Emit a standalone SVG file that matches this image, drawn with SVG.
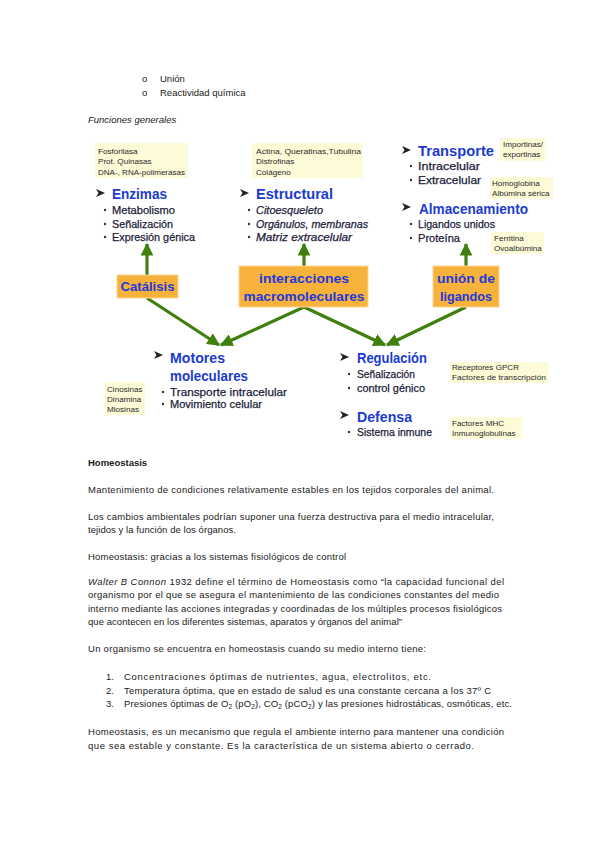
<svg xmlns="http://www.w3.org/2000/svg" width="599" height="848" viewBox="0 0 599 848">
<style>
.doc{font-family:"Liberation Sans",Arial,sans-serif;font-size:9.5px;fill:#1a1a1a}
.b{font-weight:bold}
.it{font-style:italic}
.hd{font-family:"Liberation Sans",Arial,sans-serif;font-size:15px;font-weight:bold;fill:#1b3bd0}
.bl{font-family:"Liberation Sans",Arial,sans-serif;font-size:11px;fill:#1c1c3a;stroke:#1c1c3a;stroke-width:0.25}
.sm{font-family:"Liberation Sans",Arial,sans-serif;font-size:8.1px;fill:#2a2a2a}
.note{fill:#fdfad8}
.ob{fill:#f6b23b;stroke:#fcd595;stroke-width:1}
.ot{font-family:"Liberation Sans",Arial,sans-serif;font-size:13px;font-weight:bold;fill:#2438dc;text-anchor:middle}
.ar{stroke:#3f7f0e;stroke-width:3.2;fill:none}
.pt{fill:#222}
.dot{fill:#333}
</style>
<defs>
<marker id="ah" viewBox="0 0 10 10" refX="9" refY="5" markerWidth="4" markerHeight="4" orient="auto" markerUnits="strokeWidth">
<path d="M0,0 L10,5 L0,10 z" fill="#3f7f0e"/>
</marker>
<path id="dart" d="M0,-4 L9,0 L0,4 L2.5,0 z"/>
</defs>
<rect width="599" height="848" fill="#ffffff"/>

<g id="top-text" class="doc">
<text x="142" y="82">o</text><text x="160" y="82">Unión</text>
<text x="142" y="96">o</text><text x="160" y="96">Reactividad química</text>
<text x="88" y="123" class="it">Funciones generales</text>
</g>

<g id="connectors">
<line class="ar" x1="147" y1="275" x2="147" y2="244" marker-end="url(#ah)"/>
<line class="ar" x1="304" y1="266" x2="304" y2="244" marker-end="url(#ah)"/>
<line class="ar" x1="466" y1="266" x2="466" y2="244" marker-end="url(#ah)"/>
<line class="ar" x1="147" y1="298" x2="219" y2="345" marker-end="url(#ah)"/>
<line class="ar" x1="304" y1="307" x2="221" y2="345" marker-end="url(#ah)"/>
<line class="ar" x1="304" y1="307" x2="385" y2="345" marker-end="url(#ah)"/>
<line class="ar" x1="466" y1="307" x2="387" y2="345" marker-end="url(#ah)"/>
</g>

<g id="enzimas">
<rect class="note" x="95" y="143" width="93" height="35"/>
<text class="sm" x="98" y="154">Fosforilasa</text>
<text class="sm" x="98" y="164">Prot. Quinasas</text>
<text class="sm" x="98" y="175" textLength="87" lengthAdjust="spacingAndGlyphs">DNA-, RNA-polimerasas</text>
<use href="#dart" class="pt" x="96" y="193"/>
<text class="hd" x="112" y="199" textLength="55" lengthAdjust="spacingAndGlyphs">Enzimas</text>
<circle class="dot" cx="105" cy="210" r="1.2"/><text class="bl" x="112" y="214" textLength="63" lengthAdjust="spacingAndGlyphs">Metabolismo</text>
<circle class="dot" cx="105" cy="224" r="1.2"/><text class="bl" x="112" y="228" textLength="61" lengthAdjust="spacingAndGlyphs">Señalización</text>
<circle class="dot" cx="105" cy="237" r="1.2"/><text class="bl" x="112" y="241" textLength="83" lengthAdjust="spacingAndGlyphs">Expresión génica</text>
</g>

<g id="estructural">
<rect class="note" x="252" y="143" width="111" height="35"/>
<text class="sm" x="256" y="154" textLength="105" lengthAdjust="spacingAndGlyphs">Actina, Queratinas,Tubulina</text>
<text class="sm" x="256" y="164">Distrofinas</text>
<text class="sm" x="256" y="175">Colágeno</text>
<use href="#dart" class="pt" x="240" y="193"/>
<text class="hd" x="256" y="199" textLength="77" lengthAdjust="spacingAndGlyphs">Estructural</text>
<circle class="dot" cx="249" cy="210" r="1.2"/><text class="bl it" x="256" y="214" textLength="67" lengthAdjust="spacingAndGlyphs">Citoesqueleto</text>
<circle class="dot" cx="249" cy="224" r="1.2"/><text class="bl it" x="256" y="228" textLength="112" lengthAdjust="spacingAndGlyphs">Orgánulos, membranas</text>
<circle class="dot" cx="249" cy="237" r="1.2"/><text class="bl it" x="256" y="241" textLength="96" lengthAdjust="spacingAndGlyphs">Matriz extracelular</text>
</g>

<g id="transporte">
<rect class="note" x="500" y="138" width="46" height="23"/>
<text class="sm" x="503" y="147">Importinas/</text>
<text class="sm" x="503" y="157">exportinas</text>
<use href="#dart" class="pt" x="402" y="150"/>
<text class="hd" x="418" y="156" textLength="76" lengthAdjust="spacingAndGlyphs">Transporte</text>
<circle class="dot" cx="411" cy="166" r="1.2"/><text class="bl" x="418" y="170" textLength="62" lengthAdjust="spacingAndGlyphs">Intracelular</text>
<circle class="dot" cx="411" cy="180" r="1.2"/><text class="bl" x="418" y="184" textLength="63" lengthAdjust="spacingAndGlyphs">Extracelular</text>
<rect class="note" x="490" y="177" width="63" height="22"/>
<text class="sm" x="492" y="186">Homoglobina</text>
<text class="sm" x="492" y="196">Albúmina sérica</text>
</g>

<g id="almacenamiento">
<use href="#dart" class="pt" x="402" y="207"/>
<text class="hd" x="419" y="214" textLength="109" lengthAdjust="spacingAndGlyphs">Almacenamiento</text>
<circle class="dot" cx="411" cy="224" r="1.2"/><text class="bl" x="418" y="228" textLength="77" lengthAdjust="spacingAndGlyphs">Ligandos unidos</text>
<circle class="dot" cx="411" cy="238" r="1.2"/><text class="bl" x="418" y="242" textLength="42" lengthAdjust="spacingAndGlyphs">Proteína</text>
<rect class="note" x="491" y="232" width="53" height="22"/>
<text class="sm" x="494" y="241">Ferritina</text>
<text class="sm" x="494" y="251">Ovoalbúmina</text>
</g>

<g id="catalisis">
<rect class="ob" x="117" y="275" width="61" height="23"/>
<text class="ot" x="147.5" y="291" textLength="54" lengthAdjust="spacingAndGlyphs">Catálisis</text>
</g>

<g id="interacciones">
<rect class="ob" x="239" y="266" width="129" height="41"/>
<text class="ot" x="304" y="283" textLength="90" lengthAdjust="spacingAndGlyphs">interacciones</text>
<text class="ot" x="304" y="301" textLength="121" lengthAdjust="spacingAndGlyphs">macromoleculares</text>
</g>

<g id="union">
<rect class="ob" x="433" y="266" width="66" height="41"/>
<text class="ot" x="466" y="283" textLength="58" lengthAdjust="spacingAndGlyphs">unión de</text>
<text class="ot" x="466" y="301" textLength="52" lengthAdjust="spacingAndGlyphs">ligandos</text>
</g>

<g id="motores">
<use href="#dart" class="pt" x="154" y="355"/>
<text class="hd" x="170" y="363" textLength="55" lengthAdjust="spacingAndGlyphs">Motores</text>
<text class="hd" x="170" y="381" textLength="78" lengthAdjust="spacingAndGlyphs">moleculares</text>
<circle class="dot" cx="163" cy="392" r="1.2"/><text class="bl" x="170" y="396" textLength="117" lengthAdjust="spacingAndGlyphs">Transporte intracelular</text>
<circle class="dot" cx="163" cy="404" r="1.2"/><text class="bl" x="170" y="408" textLength="92" lengthAdjust="spacingAndGlyphs">Movimiento celular</text>
<rect class="note" x="105" y="382" width="40" height="33"/>
<text class="sm" x="107" y="392">Cinosinas</text>
<text class="sm" x="107" y="402">Dinamina</text>
<text class="sm" x="107" y="412">Miosinas</text>
</g>

<g id="regulacion">
<use href="#dart" class="pt" x="340" y="357"/>
<text class="hd" x="357" y="363" textLength="70" lengthAdjust="spacingAndGlyphs">Regulación</text>
<circle class="dot" cx="349" cy="374" r="1.2"/><text class="bl" x="357" y="378" textLength="58" lengthAdjust="spacingAndGlyphs">Señalización</text>
<circle class="dot" cx="349" cy="388" r="1.2"/><text class="bl" x="357" y="392" textLength="68" lengthAdjust="spacingAndGlyphs">control génico</text>
<rect class="note" x="450" y="362" width="98" height="21"/>
<text class="sm" x="452" y="370">Receptores GPCR</text>
<text class="sm" x="452" y="380" textLength="94" lengthAdjust="spacingAndGlyphs">Factores de transcripción</text>
</g>

<g id="defensa">
<use href="#dart" class="pt" x="340" y="415"/>
<text class="hd" x="357" y="422" textLength="55" lengthAdjust="spacingAndGlyphs">Defensa</text>
<circle class="dot" cx="349" cy="432" r="1.2"/><text class="bl" x="357" y="436" textLength="75" lengthAdjust="spacingAndGlyphs">Sistema inmune</text>
<rect class="note" x="450" y="417" width="72" height="22"/>
<text class="sm" x="452" y="426">Factores MHC</text>
<text class="sm" x="452" y="436">Inmunoglobulinas</text>
</g>

<g id="homeostasis-text" class="doc">
<text x="88" y="466" class="b">Homeostasis</text>
<text x="88" y="493" textLength="406" lengthAdjust="spacing">Mantenimiento de condiciones relativamente estables en los tejidos corporales del animal.</text>
<text x="88" y="520" textLength="406" lengthAdjust="spacing">Los cambios ambientales podrían suponer una fuerza destructiva para el medio intracelular,</text>
<text x="88" y="533" textLength="148" lengthAdjust="spacing">tejidos y la función de los órganos.</text>
<text x="88" y="560" textLength="258" lengthAdjust="spacing">Homeostasis: gracias a los sistemas fisiológicos de control</text>
<text x="88" y="585" textLength="416" lengthAdjust="spacing"><tspan class="it">Walter B Connon</tspan> 1932 define el término de Homeostasis como “la capacidad funcional del</text>
<text x="88" y="598" textLength="411" lengthAdjust="spacing">organismo por el que se asegura el mantenimiento de las condiciones constantes del medio</text>
<text x="88" y="612" textLength="414" lengthAdjust="spacing">interno mediante las acciones integradas y coordinadas de los múltiples procesos fisiológicos</text>
<text x="88" y="625" textLength="314" lengthAdjust="spacing">que acontecen en los diferentes sistemas, aparatos y órganos del animal”</text>
<text x="88" y="652" textLength="338" lengthAdjust="spacing">Un organismo se encuentra en homeostasis cuando su medio interno tiene:</text>
<text x="106" y="680">1.</text><text x="124" y="680" textLength="307" lengthAdjust="spacing">Concentraciones óptimas de nutrientes, agua, electrolitos, etc.</text>
<text x="106" y="694">2.</text><text x="124" y="694" textLength="367" lengthAdjust="spacing">Temperatura óptima, que en estado de salud es una constante cercana a los 37º C</text>
<text x="106" y="707">3.</text><text x="124" y="707" textLength="388" lengthAdjust="spacing">Presiones óptimas de O<tspan font-size="6.5" dy="2">2</tspan><tspan dy="-2"> (pO</tspan><tspan font-size="6.5" dy="2">2</tspan><tspan dy="-2">), CO</tspan><tspan font-size="6.5" dy="2">2</tspan><tspan dy="-2"> (pCO</tspan><tspan font-size="6.5" dy="2">2</tspan><tspan dy="-2">) y las presiones hidrostáticas, osmóticas, etc.</tspan></text>
<text x="88" y="735" textLength="416" lengthAdjust="spacing">Homeostasis, es un mecanismo que regula el ambiente interno para mantener una condición</text>
<text x="88" y="749" textLength="386" lengthAdjust="spacing">que sea estable y constante. Es la característica de un sistema abierto o cerrado.</text>
</g>
</svg>
